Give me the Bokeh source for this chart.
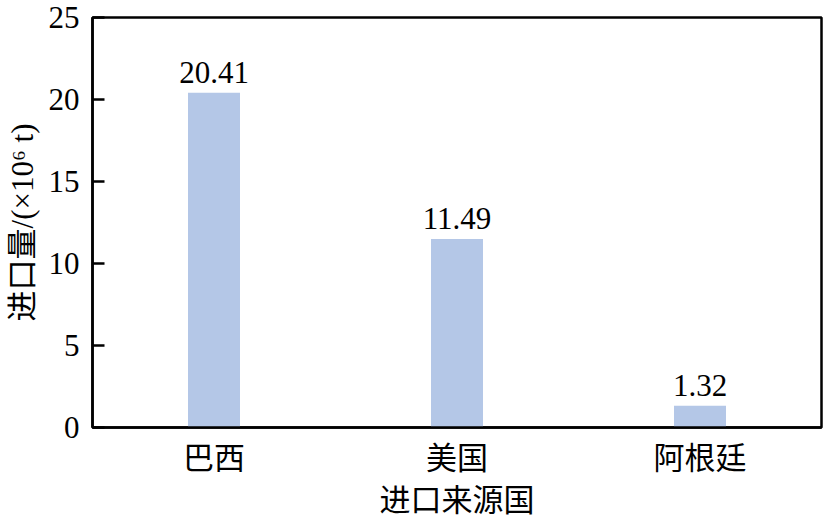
from bokeh.plotting import figure
from bokeh.models import ColumnDataSource, LabelSet, Range1d, FixedTicker
from bokeh.embed import file_html
from bokeh.resources import INLINE

countries = ["巴西", "美国", "阿根廷"]
imports = [20.41, 11.49, 1.32]
labels = ["20.41", "11.49", "1.32"]
y_ticks = [0, 5, 10, 15, 20, 25]

FONT = "'Liberation Serif', 'Noto Sans CJK SC'"
NUMFONT = "Liberation Serif"

src = ColumnDataSource(dict(x=countries, y=imports, t=labels))

p = figure(x_range=countries, y_range=Range1d(0, 25), width=824, height=523,
           output_backend="svg", toolbar_location=None,
           min_border_left=92, min_border_right=3, min_border_top=17, min_border_bottom=96)

p.vbar(x="x", top="y", width=0.214, source=src, fill_color="#b4c7e7", line_color=None)

p.add_layout(LabelSet(x="x", y="y", text="t", source=src, text_align="center",
                      text_baseline="alphabetic", y_offset=10,
                      text_font=NUMFONT, text_font_size="31px", text_color="black"))

p.xgrid.grid_line_color = None
p.ygrid.grid_line_color = None
p.outline_line_color = "black"
p.outline_line_width = 2.5
p.outline_line_alpha = 1

p.yaxis.ticker = FixedTicker(ticks=y_ticks)
p.yaxis.major_tick_in = 12
p.yaxis.major_tick_out = 0
p.yaxis.minor_tick_line_color = None
p.yaxis.major_tick_line_width = 2.5
p.yaxis.axis_line_width = 2.5
p.yaxis.major_label_standoff = 13
p.yaxis.axis_label = "进口量/(×10⁶ t)"
p.yaxis.axis_label_standoff = 6
p.yaxis.major_label_text_font = NUMFONT

p.xaxis.major_tick_line_color = None
p.xaxis.minor_tick_line_color = None
p.xaxis.axis_line_width = 2.5
p.xaxis.major_label_standoff = 7
p.xaxis.axis_label = "进口来源国"
p.xaxis.axis_label_standoff = 4
p.xaxis.major_label_text_font = FONT

for ax in (p.xaxis, p.yaxis):
    ax.major_label_text_font_size = "31px"
    ax.major_label_text_color = "black"
    ax.axis_label_text_font = FONT
    ax.axis_label_text_font_size = "31px"
    ax.axis_label_text_font_style = "normal"
    ax.axis_label_text_color = "black"
    ax.axis_line_color = "black"

p.x_range.range_padding = 0

open("out.html", "w").write(file_html(p, INLINE))
